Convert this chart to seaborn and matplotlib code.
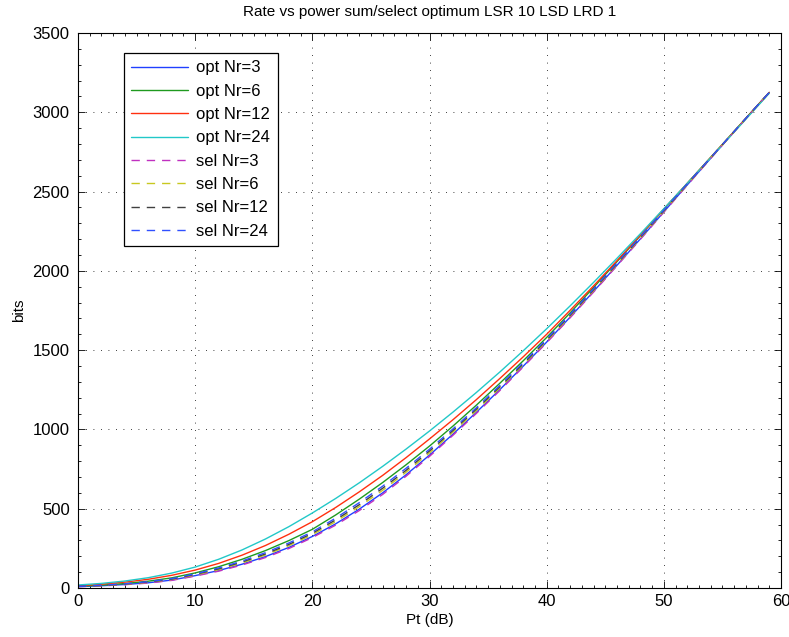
import matplotlib
matplotlib.use("Agg")
import matplotlib.pyplot as plt
import seaborn as sns
import pandas as pd
from matplotlib.ticker import MultipleLocator

# ---------------- data ----------------
pt_db = [0, 2, 4, 6, 8, 10, 12, 14, 16, 18, 20, 22, 24, 26, 28, 30, 32, 34, 36, 38,
         40, 42, 44, 46, 48, 50, 52, 54, 56, 58, 59]

opt_nr3 = [9, 14, 22, 33, 50, 78, 110, 150, 198, 256, 325, 405, 497, 600, 714, 838,
           970, 1108, 1251, 1399, 1551, 1708, 1870, 2035, 2202, 2372, 2542, 2710,
           2878, 3044, 3125]
opt_nr6 = [11, 18, 28, 43, 64, 95, 134, 181, 236, 299, 370, 461, 560, 665, 777, 895,
           1021, 1153, 1291, 1433, 1580, 1735, 1895, 2058, 2222, 2388, 2552, 2716,
           2880, 3044, 3125]
opt_nr12 = [14, 24, 37, 55, 80, 113, 155, 207, 268, 339, 418, 508, 606, 710, 822, 940,
            1061, 1188, 1321, 1458, 1600, 1751, 1905, 2064, 2225, 2390, 2552, 2715,
            2878, 3042, 3125]
opt_nr24 = [19, 29, 44, 65, 94, 132, 181, 240, 309, 387, 473, 565, 663, 767, 876, 990,
            1109, 1233, 1362, 1496, 1635, 1779, 1927, 2079, 2234, 2392, 2552, 2713,
            2875, 3038, 3120]
sel_nr3 = [8, 13, 21, 31, 48, 75, 106, 145, 192, 249, 318, 397, 488, 590, 705, 830,
           963, 1101, 1245, 1394, 1547, 1704, 1866, 2032, 2199, 2370, 2540, 2709,
           2878, 3044, 3125]
sel_nr6 = [9, 15, 24, 36, 54, 82, 116, 158, 208, 267, 336, 419, 513, 616, 730, 852,
           983, 1119, 1261, 1408, 1558, 1715, 1876, 2041, 2207, 2376, 2544, 2712,
           2878, 3044, 3125]
sel_nr12 = [10, 16, 25, 38, 56, 86, 121, 164, 215, 275, 345, 430, 525, 629, 742, 864,
            993, 1128, 1269, 1414, 1564, 1720, 1881, 2045, 2211, 2379, 2547, 2713,
            2879, 3044, 3125]
sel_nr24 = [10, 17, 26, 40, 59, 89, 126, 170, 223, 284, 354, 441, 538, 642, 755, 875,
            1003, 1137, 1277, 1421, 1570, 1726, 1886, 2050, 2215, 2382, 2548, 2714,
            2879, 3044, 3125]

labels = ["opt Nr=3", "opt Nr=6", "opt Nr=12", "opt Nr=24",
          "sel Nr=3", "sel Nr=6", "sel Nr=12", "sel Nr=24"]
values = [opt_nr3, opt_nr6, opt_nr12, opt_nr24, sel_nr3, sel_nr6, sel_nr12, sel_nr24]
colors = ["#2040ff", "#1f9a1f", "#ff3010", "#22c8c8",
          "#c030c0", "#c8c820", "#404040", "#3050ff"]

frames = []
for lab, vals in zip(labels, values):
    frames.append(pd.DataFrame({"Pt": pt_db, "bits": vals, "series": lab}))
df = pd.concat(frames, ignore_index=True)

palette = dict(zip(labels, colors))
dash_map = {lab: ("" if lab.startswith("opt") else (6, 5)) for lab in labels}

# ---------------- figure ----------------
sns.set_theme(style="ticks")
plt.rcParams['font.family'] = ['Liberation Sans', 'DejaVu Sans']

fig = plt.figure(figsize=(7.89, 6.37), dpi=100)
fig.patch.set_facecolor("white")
ax = fig.add_axes([78 / 789, 1 - 588 / 637, 703 / 789, 555 / 637])
ax.set_facecolor("white")

sns.lineplot(data=df, x="Pt", y="bits", hue="series", style="series",
             hue_order=labels, style_order=labels, palette=palette,
             dashes=dash_map, linewidth=1.0, ax=ax, sort=False, estimator=None)

ax.set_xlim(0, 60)
ax.set_ylim(0, 3500)
ax.xaxis.set_major_locator(MultipleLocator(10))
ax.yaxis.set_major_locator(MultipleLocator(500))
ax.xaxis.set_minor_locator(MultipleLocator(1))
ax.yaxis.set_minor_locator(MultipleLocator(100))

ax.tick_params(which="both", direction="in", top=True, right=True,
               colors="black", labelsize=12, width=0.6)
ax.tick_params(which="major", length=5)
ax.tick_params(which="minor", length=2.5)
ax.tick_params(axis="y", pad=6)
ax.tick_params(axis="x", pad=4)

for sp in ax.spines.values():
    sp.set_visible(True)
    sp.set_color("black")
    sp.set_linewidth(0.8)

ax.grid(True, which="major", color="black", linestyle=(0, (1, 8)), linewidth=0.6)

ax.set_title("Rate vs power sum/select optimum LSR 10 LSD LRD 1", fontsize=11,
             pad=12, color="black")
ax.set_xlabel("Pt (dB)", fontsize=11, labelpad=3, color="black")
ax.set_ylabel("bits", fontsize=11, labelpad=5, color="black")

handles, hl = ax.get_legend_handles_labels()
leg = ax.legend(handles, hl, loc="upper left", bbox_to_anchor=(0.0654, 0.964),
                frameon=True, fancybox=False, edgecolor="black", framealpha=1,
                fontsize=12, handlelength=3.4, labelspacing=0.5, borderpad=0.45,
                handletextpad=0.5, borderaxespad=0)
leg.get_frame().set_linewidth(0.9)
for t in leg.get_texts():
    t.set_color("black")

fig.savefig("out.png", dpi=100, facecolor="white")
